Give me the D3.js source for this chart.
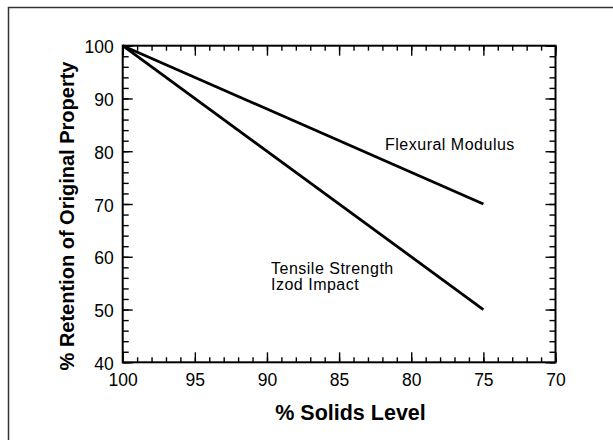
<!DOCTYPE html>
<html>
<head>
<meta charset="utf-8">
<script src="https://cdn.jsdelivr.net/npm/d3@7"></script>
<style>
  html, body { margin: 0; padding: 0; background: #fff; }
  svg { display: block; }
  text { font-family: "Liberation Sans", Arial, Helvetica, sans-serif; fill: #000; }
</style>
</head>
<body>
<svg id="chart" width="613" height="440"></svg>
<script>
// ---- data ----
const solidsLevel = [100, 75];
const flexuralModulus = [100, 70];
const tensileStrength = [100, 50];
const xTickValues = [100, 95, 90, 85, 80, 75, 70];
const yTickValues = [40, 50, 60, 70, 80, 90, 100];
const xMinorTicks = d3.range(70, 101, 1);
const yMinorTicks = d3.range(40, 101, 2);
const seriesLabels = { flexural: ["Flexural Modulus"], tensile: ["Tensile Strength", "Izod Impact"] };
const xTitle = "% Solids Level";
const yTitle = "% Retention of Original Property";

// ---- layout ----
const svg = d3.select("#chart");
const L = 122.7, R = 555.5, T = 45.7, B = 362.3;

const x = d3.scaleLinear().domain([100, 70]).range([L, R]);
const y = d3.scaleLinear().domain([40, 100]).range([B, T]);

// outer frame
svg.append("rect").attr("x", 8.5).attr("y", 7.5).attr("width", 640).attr("height", 460)
  .attr("fill", "none").attr("stroke", "#333").attr("stroke-width", 1.5);

// minor ticks (inward) on all four sides
const g = svg.append("g");
function tickAxis(axisFn, scale, values, size, transform) {
  const a = axisFn(scale).tickValues(values).tickSizeInner(size).tickSizeOuter(0).tickFormat("");
  const gg = g.append("g").attr("transform", transform).call(a);
  gg.select(".domain").remove();
  gg.selectAll("line").attr("stroke", "#000").attr("stroke-width", 1.4);
  return gg;
}
tickAxis(d3.axisBottom, x, xMinorTicks, -5, `translate(0,${B})`);
tickAxis(d3.axisTop, x, xMinorTicks, -5, `translate(0,${T})`);
tickAxis(d3.axisLeft, y, yMinorTicks, -6, `translate(${L},0)`);
tickAxis(d3.axisRight, y, yMinorTicks, -6, `translate(${R},0)`);
// major ticks
tickAxis(d3.axisBottom, x, xTickValues, -10, `translate(0,${B})`);
tickAxis(d3.axisTop, x, xTickValues, -10, `translate(0,${T})`);
tickAxis(d3.axisLeft, y, yTickValues, -10, `translate(${L},0)`);
tickAxis(d3.axisRight, y, yTickValues, -10, `translate(${R},0)`);

// plot frame
svg.append("rect").attr("x", L).attr("y", T).attr("width", R - L).attr("height", B - T)
  .attr("fill", "none").attr("stroke", "#000").attr("stroke-width", 2);

// tick labels
const xl = d3.axisBottom(x).tickValues(xTickValues).tickSize(0).tickPadding(11).tickFormat(d3.format("d"));
const gx = svg.append("g").attr("transform", `translate(0,${B})`).call(xl);
gx.select(".domain").remove();
gx.selectAll("text").attr("font-size", 17.5).attr("font-family", "Liberation Sans, Arial, sans-serif").attr("fill", "#000");

const yl = d3.axisLeft(y).tickValues(yTickValues).tickSize(0).tickPadding(9).tickFormat(d3.format("d"));
const gy = svg.append("g").attr("transform", `translate(${L},0)`).call(yl);
gy.select(".domain").remove();
gy.selectAll("text").attr("font-size", 17.5).attr("font-family", "Liberation Sans, Arial, sans-serif").attr("fill", "#000").attr("dy", "0.4em");

// lines
const line = d3.line().x(d => x(d[0])).y(d => y(d[1]));
[flexuralModulus, tensileStrength].forEach(vals => {
  svg.append("path").datum(solidsLevel.map((s, i) => [s, vals[i]]))
    .attr("d", line).attr("fill", "none").attr("stroke", "#000").attr("stroke-width", 2.8)
    .attr("stroke-linecap", "butt");
});

// series labels
function labelBlock(lines, px, py) {
  const t = svg.append("text").attr("x", px).attr("y", py).attr("font-size", 16).attr("letter-spacing", 0.5);
  lines.forEach((s, i) => t.append("tspan").attr("x", px).attr("dy", i === 0 ? 0 : 16).text(s));
}
labelBlock(seriesLabels.flexural, 385, 150);
labelBlock(seriesLabels.tensile, 271, 274);

// axis titles
svg.append("text").attr("x", 350.5).attr("y", 420).attr("text-anchor", "middle")
  .attr("font-size", 21.5).attr("font-weight", "bold").text(xTitle);
svg.append("text").attr("transform", "translate(74,216) rotate(-90)").attr("text-anchor", "middle")
  .attr("font-size", 20).attr("font-weight", "bold").text(yTitle);
</script>
</body>
</html>
